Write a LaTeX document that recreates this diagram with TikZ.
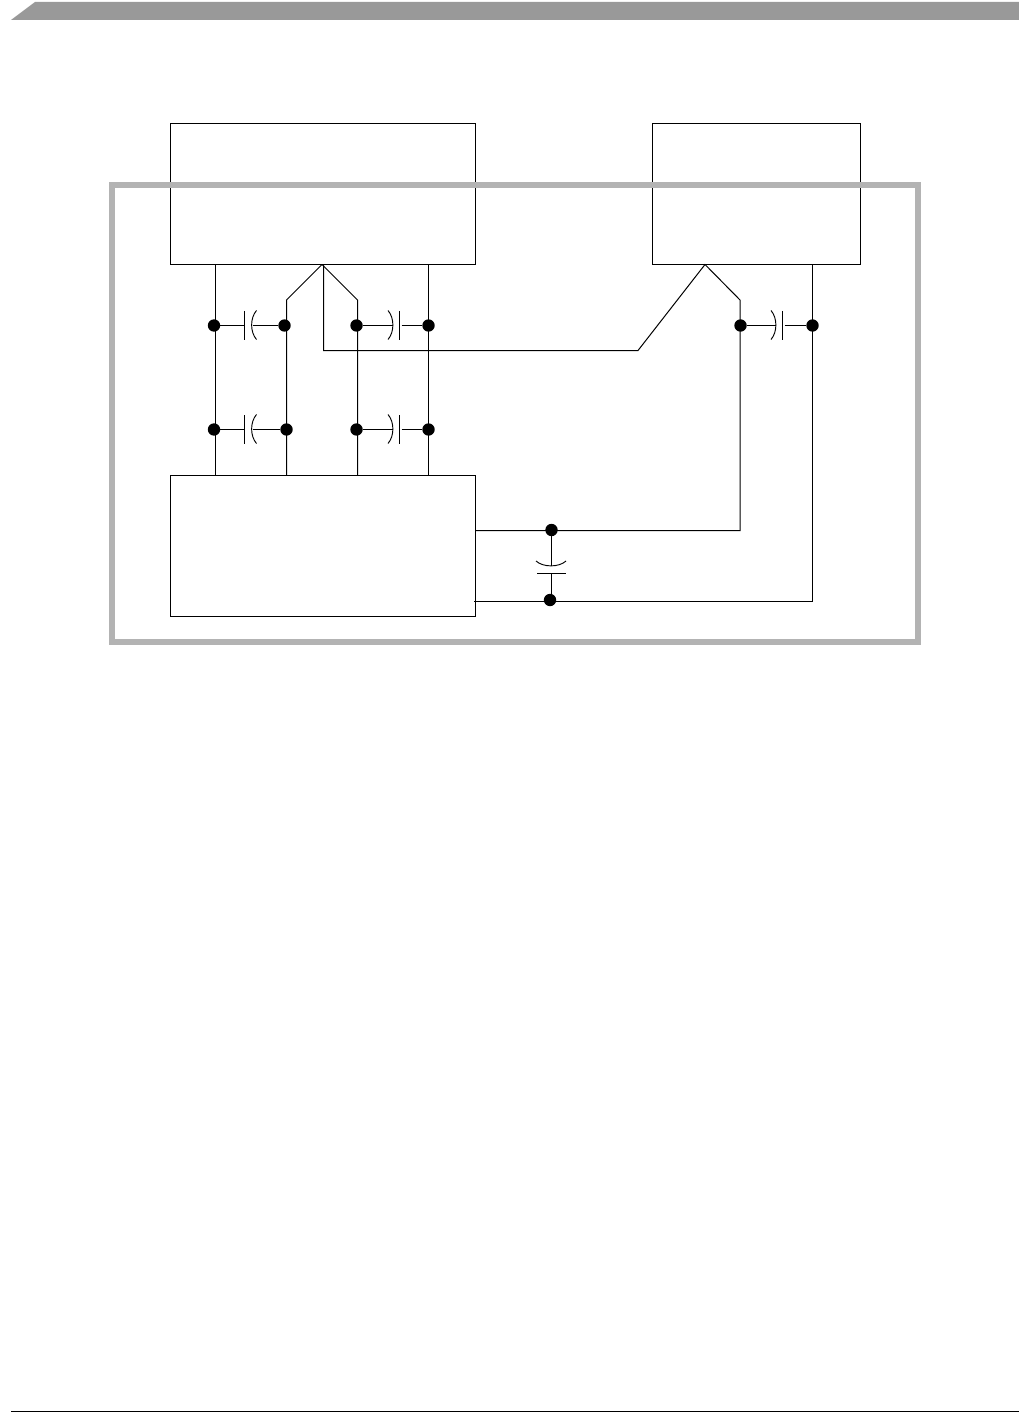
\documentclass[tikz,border=0pt]{standalone}
\tikzset{
  blk/.style={draw,rectangle,anchor=north west,inner sep=0pt,outer sep=0pt,line width=.75pt},
  jn/.style={circle,fill=black,inner sep=0pt,outer sep=0pt,minimum size=9.3pt},
  wire/.style={line width=.75pt},
  plate/.style={line width=.7pt}
}
\definecolor{framegray}{HTML}{B3B3B3}
\definecolor{bandgray}{HTML}{999999}

\begin{document}
\begin{tikzpicture}[x=.75pt,y=-.75pt]
      \useasboundingbox (0,0) rectangle (1019,1419);
      % page furniture
      \fill[bandgray] (11,20) -- (35,2) -- (1019,2) -- (1019,20) -- cycle;
      \draw[line width=1pt] (11,1411.5) -- (1019,1411.5);
      % blocks
      \node[blk,minimum width=228.75pt,minimum height=105.75pt] (ctrl) at (170.5,123.5) {};
      \node[blk,minimum width=156pt,minimum height=105.75pt] (phy) at (652.5,123.5) {};
      \node[blk,minimum width=228.75pt,minimum height=105.4pt] (dev) at (170.5,475.5) {};
      % module outline
      \draw[framegray,line width=4.5pt] (112,185) rectangle (918,642);
      % points on the blocks
      \coordinate (t1) at (215.5,264.5);
      \coordinate (t2) at (428.5,264.5);
      \coordinate (t3) at (812.5,264.5);
      \coordinate (b1) at (215.5,475.5);
      \coordinate (b2) at (286.5,475.5);
      \coordinate (b3) at (357.5,475.5);
      \coordinate (b4) at (428.5,475.5);
      \coordinate (apx1) at (322,264.5);
      \coordinate (apx2) at (705,264.5);
      \coordinate (k1) at (286.5,300);
      \coordinate (k2) at (357.5,300);
      \coordinate (k3) at (740,300);
      \coordinate (ref1) at (323.5,264.5);
      \coordinate (ref2) at (323.5,350.5);
      \coordinate (ref3) at (638,350.5);
      \coordinate (r1) at (475.5,530.5);
      \coordinate (r2) at (474,601);
      \coordinate (n1) at (740,530.5);
      \coordinate (n2) at (812.5,601);
      % vertical runs
      \draw[wire] (t1) -- (b1);
      \draw[wire] (t2) -- (b4);
      \draw[wire] (t3) -- (n2) -- (r2);
      \draw[wire] (apx1) -- (k1) -- (b2);
      \draw[wire] (apx1) -- (k2) -- (b3);
      \draw[wire] (ref1) -- (ref2) -- (ref3) -- (apx2) -- (k3) -- (n1) -- (r1);
      % junctions
      \node[jn] (d1) at (214,325.5) {};
      \node[jn] (d2) at (284.5,325.5) {};
      \node[jn] (d3) at (356.5,325.5) {};
      \node[jn] (d4) at (428.5,325.5) {};
      \node[jn] (d5) at (214,429.5) {};
      \node[jn] (d6) at (286.5,429.5) {};
      \node[jn] (d7) at (356.5,429.5) {};
      \node[jn] (d8) at (428.5,429.5) {};
      \node[jn] (d9) at (740.5,325.5) {};
      \node[jn] (d10) at (812.5,325.5) {};
      \node[jn] (d11) at (551.5,530) {};
      \node[jn] (d12) at (550,600) {};
      \coordinate (d12t) at (551.5,600);
      % capacitors
      \draw[wire] (d1) -- (243.5,325.5);
      \draw[plate] (244.5,311) -- (244.5,339.5);
      \draw[plate] (256.5,310.5) .. controls (250,318) and (250,332) .. (256.5,339.5);
      \draw[wire] (252.5,325.5) -- (d2);
      \draw[wire] (d3) -- (392.5,325.5);
      \draw[plate] (388,310.5) .. controls (394.5,318) and (394.5,332) .. (388,339.5);
      \draw[plate] (399.5,311) -- (399.5,339.5);
      \draw[wire] (401.5,325.5) -- (d4);
      \draw[wire] (d5) -- (243.5,429.5);
      \draw[plate] (244.5,415) -- (244.5,443.5);
      \draw[plate] (256.5,414.5) .. controls (250,422) and (250,436) .. (256.5,443.5);
      \draw[wire] (252.5,429.5) -- (d6);
      \draw[wire] (d7) -- (392.5,429.5);
      \draw[plate] (388,414.5) .. controls (394.5,422) and (394.5,436) .. (388,443.5);
      \draw[plate] (399.5,415) -- (399.5,443.5);
      \draw[wire] (401.5,429.5) -- (d8);
      \draw[wire] (d9) -- (775.5,325.5);
      \draw[plate] (771,310.5) .. controls (777.5,318) and (777.5,332) .. (771,339.5);
      \draw[plate] (782.5,311) -- (782.5,339.5);
      \draw[wire] (784.5,325.5) -- (d10);
      \draw[wire] (d11) -- (551.5,565.5);
      \draw[plate] (536,561) .. controls (543,567.5) and (559,567.5) .. (566,561);
      \draw[plate] (537,573.5) -- (566,573.5);
      \draw[wire] (551.5,573.5) -- (d12t);
\end{tikzpicture}
\end{document}
